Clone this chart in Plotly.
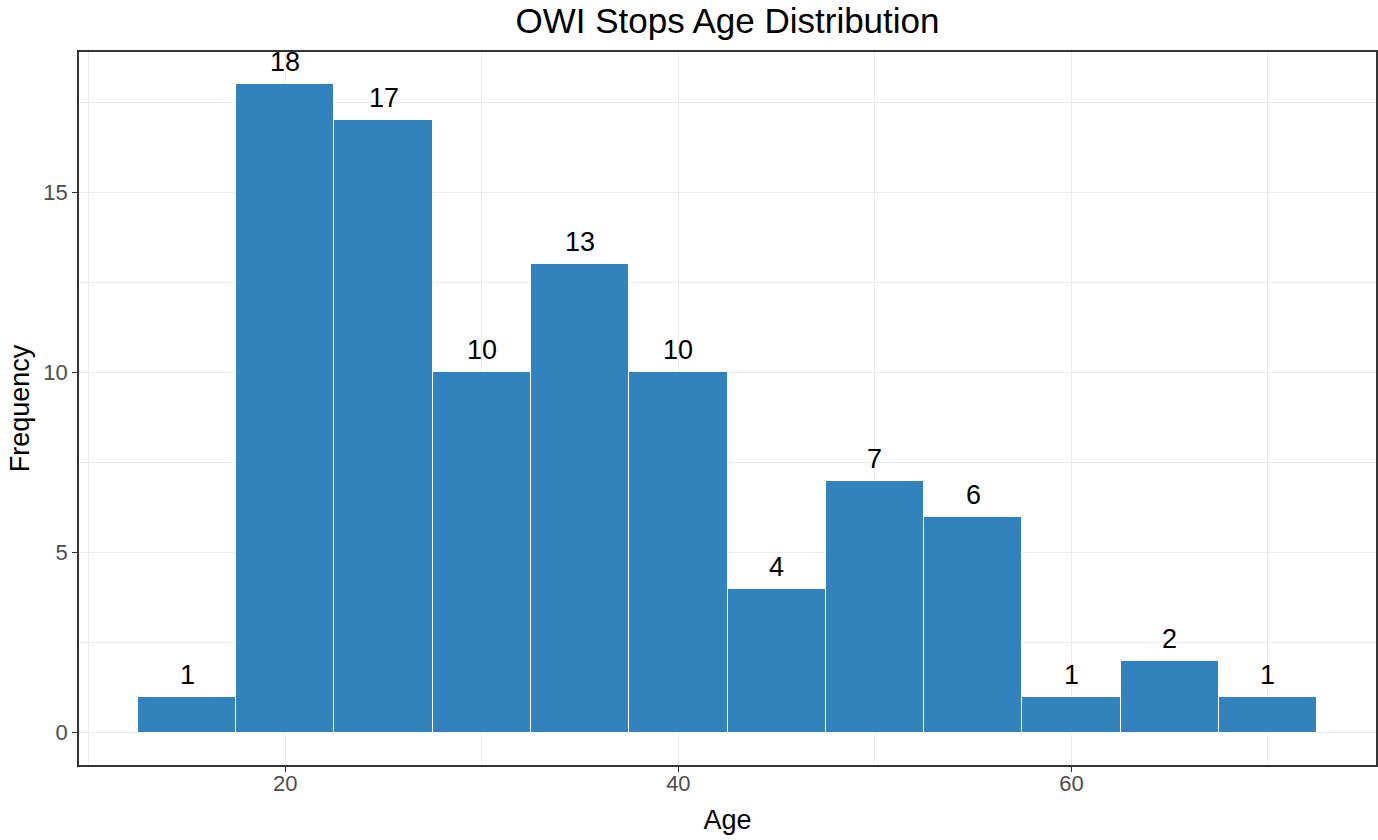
import plotly.graph_objects as go

bin_centers = [15, 20, 25, 30, 35, 40, 45, 50, 55, 60, 65, 70]
counts = [1, 18, 17, 10, 13, 10, 4, 7, 6, 1, 2, 1]
bin_width = 5
x_ticks = [20, 40, 60]
y_ticks = [0, 5, 10, 15]
minor_x = [10, 30, 50, 70]
minor_y = [2.5, 7.5, 12.5, 17.5]

FONT = "Liberation Sans, Arial, sans-serif"
W, H = 1378, 840
ML, MR, MT, MB = 79, 2, 52, 75

fig = go.Figure()
fig.add_trace(go.Bar(
    x=bin_centers, y=counts, width=[bin_width] * len(bin_centers),
    marker=dict(color="#3182BD", line=dict(color="white", width=1)),
    hoverinfo="x+y", showlegend=False,
))
for xc, c in zip(bin_centers, counts):
    fig.add_annotation(x=xc, y=c, xref="x", yref="y", text=str(c), showarrow=False,
                       yanchor="bottom", yshift=5,
                       font=dict(family=FONT, size=27, color="black"))

fig.update_layout(
    width=W, height=H,
    paper_bgcolor="white", plot_bgcolor="white",
    margin=dict(l=ML, r=MR, t=MT, b=MB, autoexpand=False),
    bargap=0,
    title=dict(text="OWI Stops Age Distribution",
               x=(ML + (W - MR)) / 2 / W, xanchor="center",
               y=1 - 21 / H, yanchor="middle",
               font=dict(family=FONT, size=35, color="black")),
    font=dict(family=FONT),
)
fig.update_xaxes(
    range=[9.5, 75.5], tickvals=x_ticks, ticktext=[str(v) for v in x_ticks],
    showgrid=True, gridcolor="#EBEBEB", gridwidth=1.3,
    minor=dict(tickvals=minor_x, showgrid=True, gridcolor="#EBEBEB", gridwidth=0.7),
    ticks="outside", ticklen=5, tickcolor="#333333", tickwidth=1.2,
    tickfont=dict(family=FONT, size=22, color="#4D4D4D"),
    ticklabelstandoff=-7,
    showline=True, linecolor="#333333", linewidth=1.5, mirror=True,
    zeroline=False, automargin=False,
    title=dict(text="Age", font=dict(family=FONT, size=27, color="black"), standoff=15),
)
fig.update_yaxes(
    range=[-0.9, 18.9], tickvals=y_ticks, ticktext=[str(v) for v in y_ticks],
    showgrid=True, gridcolor="#EBEBEB", gridwidth=1.3,
    minor=dict(tickvals=minor_y, showgrid=True, gridcolor="#EBEBEB", gridwidth=0.7),
    ticks="outside", ticklen=5, tickcolor="#333333", tickwidth=1.2,
    tickfont=dict(family=FONT, size=22, color="#4D4D4D"),
    showline=True, linecolor="#333333", linewidth=1.5, mirror=True,
    zeroline=False, automargin=False,
    title=dict(text="Frequency", font=dict(family=FONT, size=27, color="black"), standoff=6),
)

fig.write_html("out.html", config={"displayModeBar": False},
               post_script="document.body.style.margin='0px';")
